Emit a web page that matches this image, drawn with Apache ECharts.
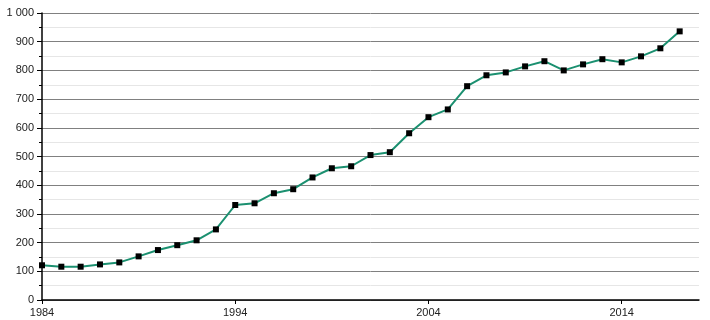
<!DOCTYPE html>
<html><head><meta charset="utf-8">
<script src="https://cdn.jsdelivr.net/npm/echarts@6/dist/echarts.min.js"></script>
<style>html,body{margin:0;padding:0;background:#fff}#c{width:710px;height:320px}</style>
</head><body><div id="c"></div>
<script>
const years = [1984,1985,1986,1987,1988,1989,1990,1991,1992,1993,1994,1995,1996,1997,1998,1999,2000,2001,2002,2003,2004,2005,2006,2007,2008,2009,2010,2011,2012,2013,2014,2015,2016,2017];
const values = [121,116,116,124,131,152,174,191,208,246,331,337,372,386,427,459,466,505,515,581,637,664,745,783,793,814,832,800,821,839,828,849,877,936];
const xTickLabels = [1984,1994,2004,2014];

const chart = echarts.init(document.getElementById('c'), null, {renderer:'canvas'});
chart.setOption({
  animation:false,
  grid:{left:42,right:11,top:13,bottom:20,containLabel:false},
  xAxis:{
    type:'value', min:1984, max:2018, interval:10,
    axisLine:{show:true,onZero:false,lineStyle:{color:'#000',width:1.5}},
    axisTick:{show:true,length:4,inside:false,customValues:xTickLabels,lineStyle:{color:'#000'}},
    axisLabel:{customValues:xTickLabels,color:'#222',fontFamily:'Liberation Sans',fontSize:11,margin:7,formatter:v=>String(v)},
    splitLine:{show:false}
  },
  yAxis:{
    type:'value', min:0, max:1000, interval:100,
    axisLine:{show:true,lineStyle:{color:'#000',width:1.5}},
    axisTick:{show:true,length:5,lineStyle:{color:'#000'}},
    minorTick:{show:true,splitNumber:2,length:3,lineStyle:{color:'#000'}},
    axisLabel:{color:'#222',fontFamily:'Liberation Sans',fontSize:11,margin:8,
      formatter:v=> v>=1000 ? (Math.floor(v/1000)+' '+String(v%1000).padStart(3,'0')) : String(v)},
    splitLine:{show:true,lineStyle:{color:'#808080',width:1}},
    minorSplitLine:{show:true,lineStyle:{color:'#e6e6e6',width:1}}
  },
  series:[{
    type:'line',
    data:years.map((y,i)=>[y,values[i]]),
    lineStyle:{color:'#1b9070',width:2},
    symbol:'rect', symbolSize:6,
    itemStyle:{color:'#000'},
    z:3
  }]
});
</script></body></html>
